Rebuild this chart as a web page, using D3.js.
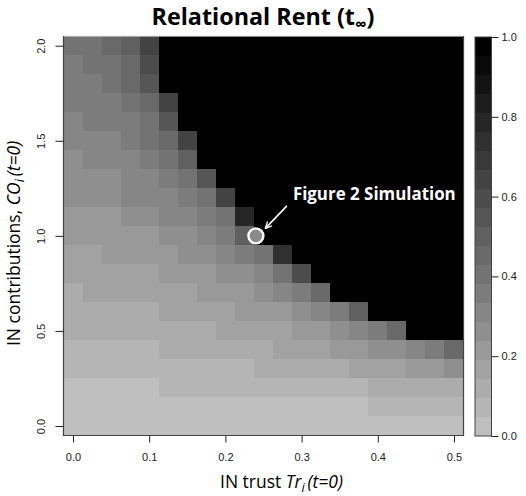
<!DOCTYPE html>
<html lang="en">
<head>
    <meta charset="UTF-8">
    <title>Relational Rent</title>
    <script src="https://d3js.org/d3.v7.min.js"></script>
    <style>
        body { margin: 0; background: #fff; }
        svg { display: block; }
        .tick text { font-family: "Liberation Sans", Arial, sans-serif; font-size: 11px; fill: #222; }
        .tick line { stroke: #222; }
        .title { font-family: "Open Sans", sans-serif; font-weight: bold; font-size: 20px; fill: #000; }
        .axis-label { font-family: "Open Sans", sans-serif; font-size: 16px; fill: #000; }
        .note { font-family: "Open Sans", sans-serif; font-weight: bold; font-size: 16px; fill: #fff; }
    </style>
</head>
<body>
    <svg id="chart" width="526" height="496"></svg>
    <script>
        // grid axes
        const trust = [0, 0.025, 0.05, 0.075, 0.1, 0.125, 0.15, 0.175, 0.2, 0.225, 0.25,
                       0.275, 0.3, 0.325, 0.35, 0.375, 0.4, 0.425, 0.45, 0.475, 0.5];
        const contrib = [2.0, 1.9, 1.8, 1.7, 1.6, 1.5, 1.4, 1.3, 1.2, 1.1, 1.0,
                         0.9, 0.8, 0.7, 0.6, 0.5, 0.4, 0.3, 0.2, 0.1, 0.0];

        // relational rent, one row per contrib level (top row = 2.0), black cells = 1
        const rent = [
            [0.40,0.40,0.45,0.50,0.65,1,1,1,1,1,1,1,1,1,1,1,1,1,1,1,1],
            [0.35,0.40,0.40,0.45,0.60,1,1,1,1,1,1,1,1,1,1,1,1,1,1,1,1],
            [0.35,0.35,0.40,0.45,0.55,1,1,1,1,1,1,1,1,1,1,1,1,1,1,1,1],
            [0.35,0.35,0.35,0.40,0.45,0.65,1,1,1,1,1,1,1,1,1,1,1,1,1,1,1],
            [0.30,0.35,0.35,0.35,0.40,0.55,1,1,1,1,1,1,1,1,1,1,1,1,1,1,1],
            [0.30,0.30,0.30,0.35,0.40,0.45,0.65,1,1,1,1,1,1,1,1,1,1,1,1,1,1],
            [0.25,0.30,0.30,0.30,0.35,0.40,0.50,1,1,1,1,1,1,1,1,1,1,1,1,1,1],
            [0.25,0.25,0.25,0.30,0.30,0.35,0.40,0.55,1,1,1,1,1,1,1,1,1,1,1,1,1],
            [0.25,0.25,0.25,0.30,0.30,0.30,0.35,0.40,0.65,1,1,1,1,1,1,1,1,1,1,1,1],
            [0.20,0.20,0.20,0.25,0.25,0.30,0.30,0.35,0.40,0.80,1,1,1,1,1,1,1,1,1,1,1],
            [0.20,0.20,0.20,0.20,0.20,0.25,0.25,0.30,0.35,0.50,1,1,1,1,1,1,1,1,1,1,1],
            [0.15,0.15,0.20,0.20,0.20,0.20,0.25,0.25,0.30,0.35,0.40,0.75,1,1,1,1,1,1,1,1,1],
            [0.15,0.15,0.15,0.15,0.15,0.20,0.20,0.20,0.25,0.25,0.30,0.40,0.60,1,1,1,1,1,1,1,1],
            [0.10,0.15,0.15,0.15,0.15,0.15,0.15,0.20,0.20,0.20,0.25,0.30,0.35,0.45,1,1,1,1,1,1,1],
            [0.10,0.10,0.10,0.10,0.10,0.15,0.15,0.15,0.15,0.20,0.20,0.20,0.25,0.30,0.35,0.50,1,1,1,1,1],
            [0.10,0.10,0.10,0.10,0.10,0.10,0.10,0.10,0.15,0.15,0.15,0.15,0.20,0.20,0.25,0.30,0.35,0.45,1,1,1],
            [0.05,0.05,0.05,0.05,0.05,0.10,0.10,0.10,0.10,0.10,0.10,0.15,0.15,0.15,0.20,0.20,0.25,0.25,0.30,0.35,0.45],
            [0.05,0.05,0.05,0.05,0.05,0.05,0.05,0.05,0.05,0.05,0.10,0.10,0.10,0.10,0.10,0.15,0.15,0.15,0.20,0.20,0.25],
            [0,0,0,0,0,0.05,0.05,0.05,0.05,0.05,0.05,0.05,0.05,0.05,0.05,0.05,0.10,0.10,0.10,0.10,0.10],
            [0,0,0,0,0,0,0,0,0,0,0,0,0,0,0,0,0.05,0.05,0.05,0.05,0.05],
            [0,0,0,0,0,0,0,0,0,0,0,0,0,0,0,0,0,0,0,0,0]
        ];

        const xTicks = [0, 0.1, 0.2, 0.3, 0.4, 0.5];
        const yTicks = [0, 0.5, 1.0, 1.5, 2.0];
        const barTicks = [0, 0.2, 0.4, 0.6, 0.8, 1.0];
        const simPoint = { trust: 0.24, contrib: 1.0, label: "Figure 2 Simulation" };

        const svg = d3.select("#chart");

        const x = d3.scaleLinear().domain([0, 0.5]).range([73, 454]);
        const y = d3.scaleLinear().domain([0, 2]).range([426, 45.7]);
        const cw = x(trust[1]) - x(trust[0]);
        const ch = y(contrib[1]) - y(contrib[0]);

        // 21 grey levels, light grey -> black
        const levels = d3.range(21).map(k => d3.rgb(191 * (1 - k / 20), 191 * (1 - k / 20), 191 * (1 - k / 20)).toString());
        const color = d3.scaleQuantize().domain([0, 1]).range(levels);

        const plotLeft = x(0) - cw / 2, plotRight = x(0.5) + cw / 2;
        const plotTop = y(2) - ch / 2, plotBottom = y(0) + ch / 2;

        // scale a text's font so it spans the wanted width
        function fitWidth(sel, target) {
          const w = sel.node().getComputedTextLength();
          const fs = parseFloat(sel.style("font-size"));
          sel.style("font-size", (fs * target / w) + "px");
          return fs * target / w;
        }

        // heatmap cells
        const cells = [];
        rent.forEach((row, i) => row.forEach((v, j) => cells.push({ t: trust[j], c: contrib[i], v: v })));

        svg.append("g").selectAll("rect")
          .data(cells)
          .enter().append("rect")
          .attr("x", d => x(d.t) - cw / 2)
          .attr("y", d => y(d.c) - ch / 2)
          .attr("width", cw + 0.4)
          .attr("height", ch + 0.4)
          .attr("fill", d => color(d.v))
          .attr("shape-rendering", "crispEdges");

        // frame
        svg.append("line").attr("x1", plotLeft).attr("x2", plotRight).attr("y1", plotTop).attr("y2", plotTop)
          .attr("stroke", "#ccc").attr("stroke-width", 1);
        svg.append("path")
          .attr("d", `M${plotLeft},${plotTop}V${plotBottom}H${plotRight}V${plotTop}`)
          .attr("fill", "none").attr("stroke", "#444").attr("stroke-width", 1.2);

        // x axis
        const xAxis = svg.append("g")
          .attr("transform", `translate(0,${plotBottom})`)
          .call(d3.axisBottom(x).tickValues(xTicks).tickFormat(d3.format(".1f")).tickSize(7).tickPadding(11));
        xAxis.select(".domain").remove();

        // y axis, labels parallel to the axis
        const yAxis = svg.append("g")
          .attr("transform", `translate(${plotLeft},0)`)
          .call(d3.axisLeft(y).tickValues(yTicks).tickFormat(d3.format(".1f")).tickSize(8));
        yAxis.select(".domain").remove();
        yAxis.selectAll(".tick text")
          .attr("x", null).attr("dy", null)
          .attr("text-anchor", "middle")
          .attr("transform", "translate(-18,0) rotate(-90)");

        // colour bar
        const cbX = 475, cbW = 16.5;
        const cbY = d3.scaleLinear().domain([0, 1]).range([436, 37]);
        svg.append("g").selectAll("rect")
          .data(levels)
          .enter().append("rect")
          .attr("x", cbX)
          .attr("y", (d, k) => cbY((k + 1) / levels.length))
          .attr("width", cbW)
          .attr("height", cbY(0) - cbY(1 / levels.length) + 0.4)
          .attr("fill", d => d)
          .attr("shape-rendering", "crispEdges");
        svg.append("rect")
          .attr("x", cbX).attr("y", cbY(1)).attr("width", cbW).attr("height", cbY(0) - cbY(1))
          .attr("fill", "none").attr("stroke", "#444").attr("stroke-width", 1);
        const cbAxis = svg.append("g")
          .attr("transform", `translate(${cbX + cbW},0)`)
          .call(d3.axisRight(cbY).tickValues(barTicks).tickFormat(d3.format(".1f")).tickSize(7).tickPadding(3));
        cbAxis.select(".domain").remove();

        // simulation marker + note
        const px = x(simPoint.trust), py = y(simPoint.contrib);
        svg.append("defs").append("marker")
          .attr("id", "head").attr("viewBox", "0 0 10 10").attr("refX", 9).attr("refY", 5)
          .attr("markerWidth", 5).attr("markerHeight", 5).attr("orient", "auto")
          .append("path").attr("d", "M1,1L9,5L1,9").attr("fill", "none").attr("stroke", "#fff").attr("stroke-width", 1.6);
        svg.append("line")
          .attr("x1", px + 31).attr("y1", py - 30)
          .attr("x2", px + 9.5).attr("y2", py - 7.5)
          .attr("stroke", "#fff").attr("stroke-width", 1.6)
          .attr("marker-end", "url(#head)");
        svg.append("circle")
          .attr("cx", px).attr("cy", py).attr("r", 7.5)
          .attr("fill", "#8a8a8a").attr("stroke", "#fff").attr("stroke-width", 2.4);
        const note = svg.append("text").attr("class", "note")
          .attr("x", px + 37).attr("y", py - 36)
          .text(simPoint.label);
        fitWidth(note, 163);

        // title
        const title = svg.append("text").attr("class", "title")
          .attr("x", 263).attr("y", 25).attr("text-anchor", "middle");
        title.append("tspan").text("Relational Rent (t");
        title.append("tspan").attr("font-size", "0.7em").attr("dy", "0.28em").text("\u221E");
        title.append("tspan").attr("dy", "-0.2em").text(")");
        fitWidth(title, 223);

        // axis titles
        const xl = svg.append("text").attr("class", "axis-label")
          .attr("x", 281.5).attr("y", 488).attr("text-anchor", "middle");
        xl.append("tspan").text("IN trust ");
        xl.append("tspan").attr("font-style", "italic").text("Tr");
        xl.append("tspan").attr("font-style", "italic").attr("font-size", "0.72em").attr("dy", "0.3em").text("i");
        xl.append("tspan").attr("font-style", "italic").attr("dy", "-0.22em").text("\u2009(t=0)");
        const labelSize = fitWidth(xl, 123);

        const yl = svg.append("text").attr("class", "axis-label")
          .style("font-size", labelSize + "px")
          .attr("transform", `translate(20,243.5) rotate(-90)`)
          .attr("text-anchor", "middle");
        yl.append("tspan").text("IN contributions, ");
        yl.append("tspan").attr("font-style", "italic").text("CO");
        yl.append("tspan").attr("font-style", "italic").attr("font-size", "0.72em").attr("dy", "0.3em").text("i");
        yl.append("tspan").attr("font-style", "italic").attr("dy", "-0.22em").text("\u2009(t=0)");
    </script>
</body>
</html>
